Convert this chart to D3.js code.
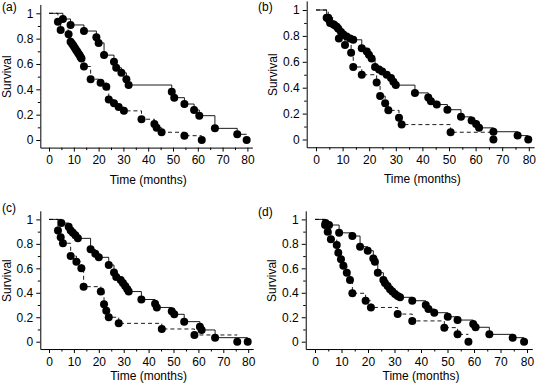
<!DOCTYPE html>
<html>
<head>
<meta charset="utf-8">
<script src="https://cdn.jsdelivr.net/npm/d3@7"></script>
<style>
  body { margin: 0; background: #fff; }
  svg { display: block; font-family: "Liberation Sans", Arial, Helvetica, sans-serif; }
</style>
</head>
<body>
<svg id="chart" width="539" height="384"></svg>
<script>
const monthTicks = [0, 10, 20, 30, 40, 50, 60, 70, 80];
const monthMinor = [5, 15, 25, 35, 45, 55, 65, 75];
const survTicks = [0, 0.2, 0.4, 0.6, 0.8, 1];
const survMinor = [0.1, 0.3, 0.5, 0.7, 0.9];
const panelLabels = ["(a)", "(b)", "(c)", "(d)"];

// [months, survival]
const aSolid = [[5.6,0.955],[8.7,0.908],[14.1,0.86],[19.1,0.81],[20,0.766],[22.2,0.67],[26.2,0.618],[27.1,0.57],[29.2,0.53],[31.2,0.48],[32.1,0.434],[49.5,0.381],[50.5,0.334],[54.6,0.284],[58.5,0.237],[60.6,0.192],[66.9,0.092],[75.9,0.045],[79.7,0]];
const aDash = [[3.6,0.934],[4.7,0.868],[7.9,0.834],[8.7,0.776],[9.3,0.76],[9.8,0.745],[10.3,0.73],[10.8,0.715],[11.3,0.70],[11.8,0.685],[12.3,0.67],[12.7,0.655],[13.1,0.643],[14.1,0.58],[16.8,0.48],[20.8,0.452],[23.1,0.42],[24.1,0.32],[26.2,0.29],[28.1,0.26],[30.2,0.23],[37.3,0.164],[42.5,0.126],[43.4,0.097],[45.4,0.061],[54.6,0.034],[61.6,0]];

const bSolid = [[4,0.94],[4.9,0.925],[5.3,0.90],[6.9,0.885],[7.8,0.87],[8.4,0.855],[9.4,0.83],[10.3,0.81],[11.5,0.795],[12.8,0.78],[14,0.77],[17.2,0.705],[19.1,0.68],[19.9,0.655],[20.9,0.625],[22.2,0.56],[23.7,0.54],[24.9,0.525],[26.6,0.5],[28.2,0.475],[29.1,0.445],[30,0.42],[37.2,0.36],[42.2,0.325],[43.2,0.295],[45.4,0.27],[49.4,0.23],[54.5,0.175],[58.5,0.146],[60.2,0.12],[61.3,0.09],[66.7,0.06],[75.8,0.03],[79.8,0]];
const bDash = [[4.6,0.94],[6.5,0.89],[8.6,0.78],[10.9,0.73],[13.2,0.67],[14,0.56],[17.2,0.50],[22.8,0.44],[24.1,0.335],[26,0.28],[27.2,0.225],[31.2,0.167],[32.2,0.115],[50.6,0.056],[66.7,0]];

const cSolid = [[4.95,0.97],[7.9,0.94],[8.7,0.91],[9.6,0.89],[10.6,0.87],[11.6,0.845],[16.7,0.755],[18.6,0.72],[20,0.69],[24,0.627],[26.1,0.565],[27,0.53],[28.8,0.505],[29.7,0.48],[30.6,0.455],[31.4,0.43],[32,0.41],[37.1,0.345],[42.6,0.31],[43.3,0.28],[49.3,0.25],[50.3,0.224],[54.3,0.164],[60.6,0.123],[61.3,0.096],[66.7,0.033],[79.8,0]];
const cDash = [[3.6,0.91],[4.7,0.854],[5.6,0.805],[8.7,0.70],[11,0.654],[13,0.60],[13.9,0.45],[20.8,0.41],[22.1,0.306],[23,0.254],[24,0.2],[28,0.15],[45.3,0.104],[58.4,0.055],[75.6,0]];

const dSolid = [[4,0.97],[5.3,0.954],[9.1,0.89],[14.1,0.864],[17,0.777],[19.9,0.744],[22,0.68],[22.6,0.654],[23.7,0.564],[25.8,0.504],[26.4,0.48],[27.4,0.455],[28.3,0.428],[29.2,0.41],[30.2,0.39],[31.2,0.374],[32.1,0.363],[36.7,0.335],[41.8,0.3],[42.8,0.267],[45,0.237],[50.1,0.204],[53.8,0.177],[59.7,0.145],[60.6,0.118],[65.8,0.06],[74.6,0.033],[78.9,0]];
const dDash = [[3.8,0.954],[4.8,0.90],[6,0.837],[8.2,0.79],[8.8,0.728],[9.8,0.674],[10.7,0.62],[12,0.564],[13.2,0.504],[14.1,0.396],[19.1,0.335],[21.1,0.28],[31.2,0.226],[36.7,0.17],[48.8,0.115],[53.8,0.06],[57.9,0]];

const series = [[aSolid, aDash], [bSolid, bDash], [cSolid, cDash], [dSolid, dDash]];

// pixel of t=0 / s=0 and pixels per unit for each panel
const layout = [
  { x0: 49, kx: 2.48, y0: 140, ky: 126.7, lx: 2, ly: 11, titleY: 184 },
  { x0: 316, kx: 2.66, y0: 139.5, ky: 129.5, lx: 258, ly: 11, titleY: 183 },
  { x0: 49, kx: 2.49, y0: 341.7, ky: 122.3, lx: 2, ly: 212, titleY: 380 },
  { x0: 315, kx: 2.65, y0: 341.7, ky: 122.3, lx: 258, ly: 216, titleY: 380 }
];

const svg = d3.select("#chart");

const stepLine = (x, y) => d3.line()
  .x(d => x(d[0]))
  .y(d => y(d[1]))
  .curve(d3.curveStepAfter);

// line starts at 1, drops at each point, and stops at the last time without the final drop
function stepPoints(pts) {
  const out = [[0, 1]].concat(pts.slice(0, -1));
  out.push([pts[pts.length - 1][0], pts[pts.length - 2][1]]);
  return out;
}

layout.forEach((p, i) => {
  const x = d3.scaleLinear()
    .domain([-3.5, 82])
    .range([p.x0 - 3.5 * p.kx, p.x0 + 82 * p.kx]);
  const y = d3.scaleLinear()
    .domain([-0.06, 1.07])
    .range([p.y0 + 0.06 * p.ky, p.y0 - 1.07 * p.ky]);

  const g = svg.append("g");

  // axes
  g.append("g")
    .attr("transform", `translate(0,${y(-0.06)})`)
    .call(d3.axisBottom(x).tickValues(monthTicks).tickSize(4).tickSizeOuter(0).tickPadding(4).tickFormat(d3.format("d")));
  g.append("g")
    .attr("transform", `translate(0,${y(-0.06)})`)
    .call(d3.axisBottom(x).tickValues(monthMinor).tickSize(2.5).tickSizeOuter(0).tickFormat(""))
    .select(".domain").remove();

  g.append("g")
    .attr("transform", `translate(${x(-3.5)},0)`)
    .call(d3.axisLeft(y).tickValues(survTicks).tickSize(4).tickSizeOuter(0).tickPadding(3).tickFormat(d3.format("~g")));
  g.append("g")
    .attr("transform", `translate(${x(-3.5)},0)`)
    .call(d3.axisLeft(y).tickValues(survMinor).tickSize(2.5).tickSizeOuter(0).tickFormat(""))
    .select(".domain").remove();

  g.selectAll(".tick text")
    .attr("font-size", 12)
    .attr("font-family", "Liberation Sans, Arial, sans-serif")
    .attr("fill", "#000");
  g.selectAll(".domain, .tick line").attr("stroke", "#000");

  // titles
  g.append("text")
    .attr("x", x(40))
    .attr("y", p.titleY)
    .attr("text-anchor", "middle")
    .attr("font-size", 12)
    .text("Time (months)");
  g.append("text")
    .attr("transform", `translate(${x(-3.5) - 29.5},${y(0.5)}) rotate(-90)`)
    .attr("text-anchor", "middle")
    .attr("font-size", 12)
    .text("Survival");
  g.append("text")
    .attr("x", p.lx)
    .attr("y", p.ly)
    .attr("font-size", 12)
    .text(panelLabels[i]);

  // curves
  const line = stepLine(x, y);
  series[i].forEach((pts, k) => {
    g.append("path")
      .datum(stepPoints(pts))
      .attr("d", line)
      .attr("fill", "none")
      .attr("stroke", "#000")
      .attr("stroke-width", 0.9)
      .attr("stroke-dasharray", k === 1 ? "4,3" : null);
  });
  series[i].forEach(pts => {
    g.selectAll(null)
      .data(pts)
      .enter()
      .append("circle")
      .attr("cx", d => x(d[0]))
      .attr("cy", d => y(d[1]))
      .attr("r", 4)
      .attr("fill", "#000");
  });
});
</script>
</body>
</html>
